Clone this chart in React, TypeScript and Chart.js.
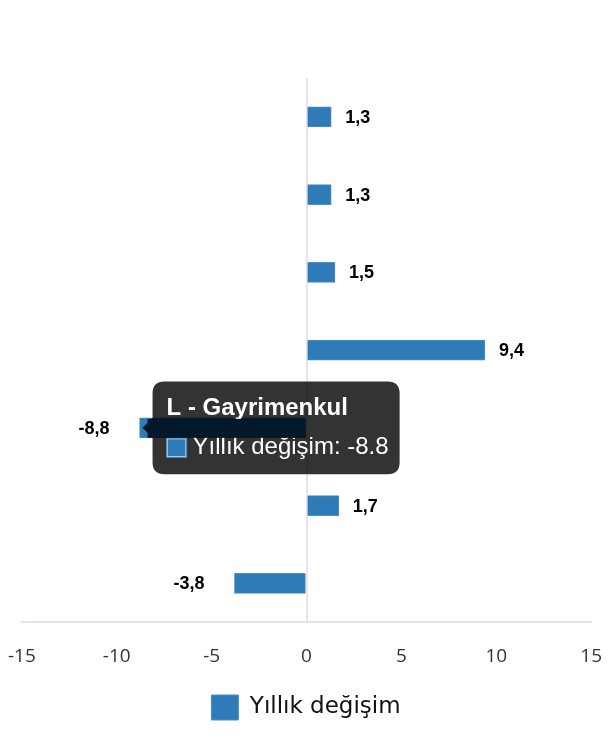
import React, { useEffect, useRef } from "react";
import { Chart, registerables } from "chart.js";

Chart.register(...registerables);

const categories = [
  "F - İnşaat",
  "G - Ticaret",
  "H - Ulaştırma",
  "I - Konaklama",
  "L - Gayrimenkul",
  "M - Mesleki faaliyetler",
  "N - İdari hizmetler",
];
const seriesName = "Yıllık değişim";
const values = [1.3, 1.3, 1.5, 9.4, -8.8, 1.7, -3.8];
const xTicks = [-15, -10, -5, 0, 5, 10, 15];
const activeIndex = 4;

const BAR = "#2f7bb8";
const BAR_BORDER = "#4a8fc6";
const DARK = "#03182a";

const dataLabelPlugin = {
  id: "dataLabels",
  afterDatasetsDraw(chart: any) {
    const ctx = chart.ctx;
    const meta = chart.getDatasetMeta(0);
    ctx.save();
    ctx.font = "bold 18px 'Liberation Sans', Arial, sans-serif";
    ctx.fillStyle = "#000";
    ctx.textBaseline = "middle";
    meta.data.forEach((bar: any, i: number) => {
      const v = values[i];
      const txt = v.toFixed(1).replace(".", ",");
      if (v >= 0) {
        ctx.textAlign = "left";
        ctx.fillText(txt, bar.x + 14, bar.y + 1);
      } else {
        ctx.textAlign = "right";
        ctx.fillText(txt, bar.x - 30, bar.y + 1);
      }
    });
    ctx.restore();
  },
};

// dark hover band over the active bar, drawn after the tooltip (as in the reference)
const hoverBandPlugin = {
  id: "hoverBand",
  afterTooltipDraw(chart: any) {
    const bar: any = chart.getDatasetMeta(0).data[activeIndex];
    if (!bar) return;
    const ctx = chart.ctx;
    const h = bar.height;
    const left = Math.min(bar.x, bar.base) + 8;
    const right = Math.max(bar.x, bar.base);
    ctx.save();
    ctx.fillStyle = DARK;
    ctx.fillRect(left, bar.y - h / 2 + 1, right - left, h - 1);
    ctx.restore();
  },
};

export default function App() {
  const ref = useRef<HTMLCanvasElement | null>(null);
  useEffect(() => {
    if (!ref.current) return;
    const chart = new Chart(ref.current, {
      type: "bar",
      data: {
        labels: categories,
        datasets: [
          {
            label: seriesName,
            data: values,
            backgroundColor: BAR,
            borderColor: BAR_BORDER,
            borderWidth: 1,
            hoverBackgroundColor: BAR,
            hoverBorderColor: BAR_BORDER,
            barThickness: 20,
          },
        ],
      },
      options: {
        indexAxis: "y",
        animation: false,
        responsive: true,
        maintainAspectRatio: false,
        layout: { padding: { top: 70, left: -2, right: -4, bottom: 2 } },
        scales: {
          x: {
            min: -15,
            max: 15,
            afterBuildTicks(axis: any) {
              axis.ticks = xTicks.map((v) => ({ value: v }));
            },
            grid: {
              drawTicks: true,
              tickLength: 23,
              tickColor: "rgba(0,0,0,0)",
              color: (c: any) => (c.tick && c.tick.value === 0 ? "#e3e5ea" : "rgba(0,0,0,0)"),
              lineWidth: 2,
            },
            border: { display: true, color: "#e3e5ea", width: 2 },
            ticks: {
              padding: 0,
              color: "#333",
              font: { family: "'Open Sans', sans-serif", size: 19 },
            },
          },
          y: {
            display: false,
          },
        },
        plugins: {
          legend: {
            position: "bottom",
            labels: {
              boxWidth: 27,
              boxHeight: 25,
              padding: 27,
              color: "#111",
              font: { family: "'DejaVu Sans', sans-serif", size: 23 },
            },
          },
          tooltip: {
            enabled: true,
            backgroundColor: "rgba(0,0,0,0.8)",
            cornerRadius: 12,
            padding: { top: 12, bottom: 12, left: 14, right: 11 },
            caretSize: 10,
            caretPadding: 3,
            titleFont: { family: "'Liberation Sans', Arial, sans-serif", size: 24, weight: "bold" },
            bodyFont: { family: "'Liberation Sans', Arial, sans-serif", size: 24 },
            titleMarginBottom: 11,
            boxWidth: 20,
            boxHeight: 19,
            boxPadding: 4,
            callbacks: {
              label: (c: any) => `${c.dataset.label}: ${c.raw}`,
            },
          },
        },
      },
      plugins: [dataLabelPlugin, hoverBandPlugin],
    } as any);
    const els = [{ datasetIndex: 0, index: activeIndex }];
    chart.setActiveElements(els);
    chart.tooltip?.setActiveElements(els, { x: 0, y: 0 });
    chart.update();
    return () => chart.destroy();
  }, []);
  return (
    <div style={{ width: 594, height: 724, position: "relative" }}>
      <canvas ref={ref} />
    </div>
  );
}
